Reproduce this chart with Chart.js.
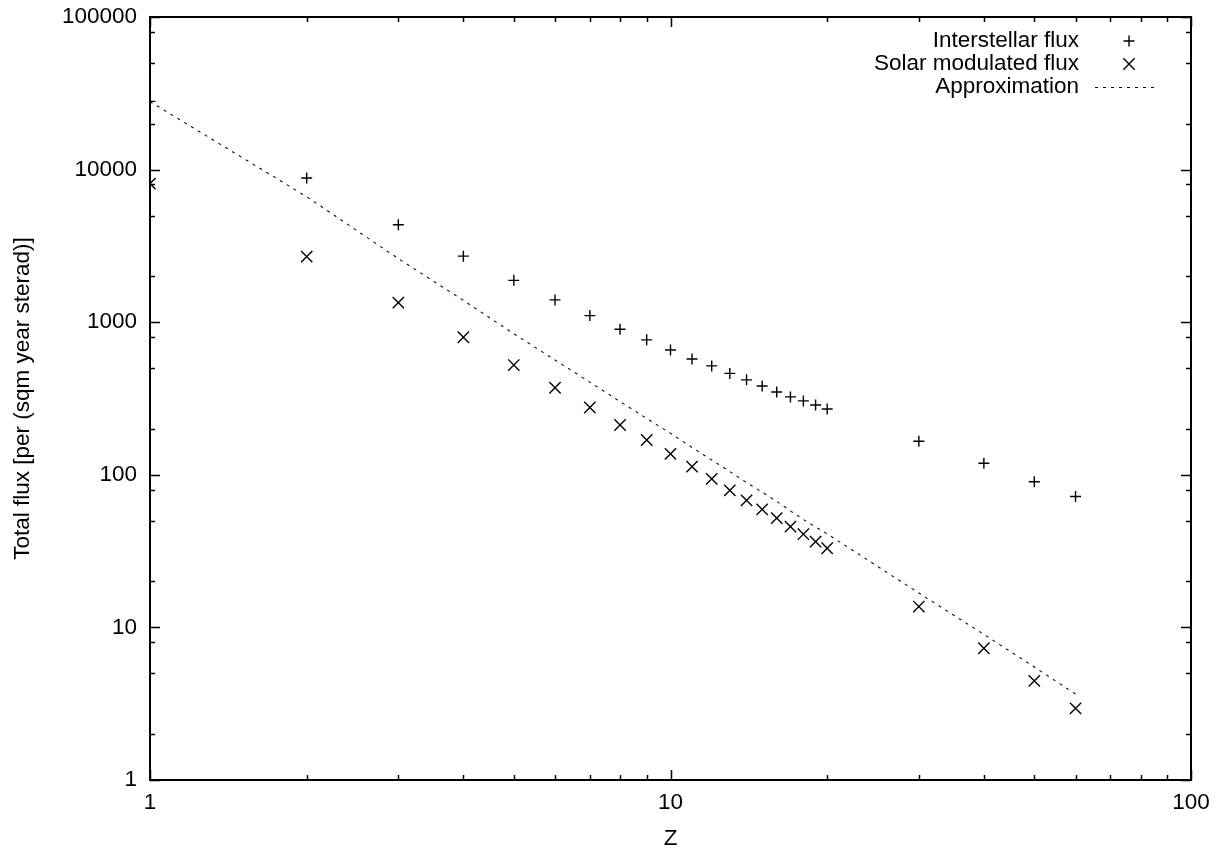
<!DOCTYPE html>
<html>
<head>
<meta charset="utf-8">
<script src="https://cdn.jsdelivr.net/npm/chart.js@4/dist/chart.umd.min.js"></script>
<style>
  html, body { margin: 0; padding: 0; background: #ffffff; }
  #wrap { width: 1224px; height: 854px; }
</style>
</head>
<body>
<div id="wrap"><canvas id="c" width="1224" height="854"></canvas></div>
<script>
// ---- Data ----
const zValues = [1, 2, 3, 4, 5, 6, 7, 8, 9, 10, 11, 12, 13, 14, 15, 16, 17, 18, 19, 20, 30, 40, 50, 60];
const interstellarFlux = [28000, 8800, 4350, 2710, 1880, 1400, 1105, 900, 766, 658, 574, 517, 462, 419, 382, 349, 324, 305, 287, 270, 166, 119, 90, 72];
const solarModulatedFlux = [8100, 2690, 1345, 797, 524, 372, 276, 212, 169, 137, 113, 94, 79, 68, 59.4, 52, 45.7, 40.8, 36.5, 33, 13.7, 7.3, 4.46, 2.95];
const approximation = [27900, 6640, 2610, 1390, 840, 565, 405, 302, 234, 187, 151, 125, 105, 89, 77, 67, 58, 51, 45.5, 41, 16.8, 9.0, 5.5, 3.66];

const xTickLabels = [1, 10, 100];
const yTickLabels = [1, 10, 100, 1000, 10000, 100000];
const xMinorMultipliers = [2, 3, 4, 5, 6, 7, 8, 9];
const yMinorMultipliers = [2, 5, 8];

const seriesNames = ['Interstellar flux', 'Solar modulated flux', 'Approximation'];
const xTitle = 'Z';
const yTitle = 'Total flux [per (sqm year sterad)]';

const FONT = 'Liberation Sans, Arial, Helvetica, sans-serif';
const FSIZE = 22.5;

const toPoints = (ys) => zValues.map((z, i) => ({ x: z, y: ys[i] }));

// Border + inward ticks on all four sides (gnuplot style)
const frameTicks = {
  id: 'frameTicks',
  afterDatasetsDraw(chart) {
    const { ctx, chartArea: a, scales } = chart;
    const xs = scales.x, ys = scales.y;
    ctx.save();
    ctx.strokeStyle = '#000';
    ctx.lineWidth = 1.5;
    const major = 10, minor = 5;
    const xMinorVals = [], yMinorVals = [];
    for (let d = 0; d < xTickLabels.length - 1; d++) xMinorMultipliers.forEach(m => xMinorVals.push(xTickLabels[d] * m));
    for (let d = 0; d < yTickLabels.length - 1; d++) yMinorMultipliers.forEach(m => yMinorVals.push(yTickLabels[d] * m));
    ctx.beginPath();
    const vx = (v, len) => {
      const p = Math.round(xs.getPixelForValue(v)) + 0.5;
      ctx.moveTo(p, a.bottom); ctx.lineTo(p, a.bottom - len);
      ctx.moveTo(p, a.top); ctx.lineTo(p, a.top + len);
    };
    const vy = (v, len) => {
      const p = Math.round(ys.getPixelForValue(v)) + 0.5;
      ctx.moveTo(a.left, p); ctx.lineTo(a.left + len, p);
      ctx.moveTo(a.right, p); ctx.lineTo(a.right - len, p);
    };
    xTickLabels.forEach(v => vx(v, major));
    xMinorVals.forEach(v => vx(v, minor));
    yTickLabels.forEach(v => vy(v, major));
    yMinorVals.forEach(v => vy(v, minor));
    ctx.stroke();
    ctx.lineWidth = 2;
    ctx.strokeRect(a.left, a.top, a.right - a.left, a.bottom - a.top);
    ctx.restore();
  }
};

// gnuplot-style key: text right aligned, sample to its right
const keyPlugin = {
  id: 'keyPlugin',
  afterDraw(chart) {
    const { ctx, chartArea: a } = chart;
    ctx.save();
    ctx.font = FSIZE + 'px ' + FONT;
    ctx.fillStyle = '#000';
    ctx.textAlign = 'right';
    ctx.textBaseline = 'middle';
    const textRight = a.right - 112;
    const symX = a.right - 62;
    const rowY = [a.top + 24, a.top + 47, a.top + 70];
    chart.data.datasets.forEach((ds, i) => {
      ctx.fillText(ds.label, textRight, rowY[i]);
      if (ds.showLine) {
        ctx.save();
        ctx.strokeStyle = ds.borderColor;
        ctx.lineWidth = ds.borderWidth;
        ctx.setLineDash(ds.borderDash);
        ctx.beginPath();
        ctx.moveTo(a.right - 96, rowY[i] + 0.5);
        ctx.lineTo(a.right - 36, rowY[i] + 0.5);
        ctx.stroke();
        ctx.restore();
      } else {
        ctx.save();
        ctx.strokeStyle = ds.borderColor;
        ctx.lineWidth = ds.borderWidth;
        Chart.helpers.drawPoint(ctx, { pointStyle: ds.pointStyle, radius: ds.pointRadius, borderWidth: ds.borderWidth, rotation: 0 }, symX, rowY[i]);
        ctx.restore();
      }
    });
    ctx.restore();
  }
};

const zeroPad = (s) => { s.paddingTop = 0; s.paddingBottom = 0; s.paddingLeft = 0; s.paddingRight = 0; };

new Chart(document.getElementById('c'), {
  type: 'scatter',
  data: {
    datasets: [
      {
        label: seriesNames[0],
        data: toPoints(interstellarFlux),
        pointStyle: 'cross',
        pointRadius: 5.5,
        borderColor: '#000',
        backgroundColor: '#000',
        borderWidth: 1.4,
        showLine: false
      },
      {
        label: seriesNames[1],
        data: toPoints(solarModulatedFlux),
        pointStyle: 'crossRot',
        pointRadius: 8,
        borderColor: '#000',
        backgroundColor: '#000',
        borderWidth: 1.4,
        showLine: false
      },
      {
        label: seriesNames[2],
        data: toPoints(approximation),
        showLine: true,
        pointRadius: 0,
        borderColor: '#111',
        borderWidth: 1.1,
        borderDash: [3, 5],
        fill: false,
        tension: 0
      }
    ]
  },
  options: {
    responsive: false,
    animation: false,
    devicePixelRatio: 1,
    layout: { padding: { left: 0, top: 17, right: 33, bottom: 0 } },
    plugins: {
      legend: { display: false },
      tooltip: { enabled: false }
    },
    scales: {
      x: {
        type: 'logarithmic',
        position: 'bottom',
        min: 1,
        max: 100,
        afterBuildTicks: (s) => { s.ticks = xTickLabels.map(v => ({ value: v })); },
        afterFit: (s) => { s.height = 74; zeroPad(s); },
        grid: { display: false, drawTicks: false },
        border: { display: false },
        ticks: {
          padding: 9,
          maxRotation: 0,
          autoSkip: false,
          color: '#000',
          font: { family: FONT, size: FSIZE },
          callback: (v) => String(v)
        },
        title: {
          display: true,
          text: xTitle,
          color: '#000',
          font: { family: FONT, size: FSIZE },
          padding: { top: 0, bottom: 2 }
        }
      },
      y: {
        type: 'logarithmic',
        position: 'left',
        min: 1,
        max: 100000,
        afterBuildTicks: (s) => { s.ticks = yTickLabels.map(v => ({ value: v })); },
        afterFit: (s) => { s.width = 150; zeroPad(s); },
        grid: { display: false, drawTicks: false },
        border: { display: false },
        ticks: {
          padding: 13,
          autoSkip: false,
          color: '#000',
          font: { family: FONT, size: FSIZE },
          callback: (v) => String(v)
        },
        title: {
          display: true,
          text: yTitle,
          color: '#000',
          font: { family: FONT, size: FSIZE },
          padding: { top: 9, bottom: 0 }
        }
      }
    }
  },
  plugins: [frameTicks, keyPlugin]
});
</script>
</body>
</html>
